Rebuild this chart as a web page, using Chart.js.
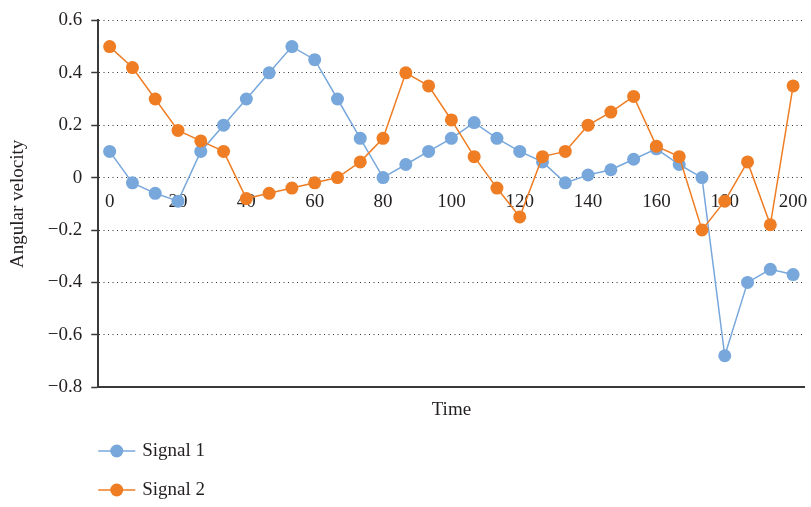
<!DOCTYPE html>
<html>
<head>
<meta charset="utf-8">
<script src="https://cdn.jsdelivr.net/npm/chart.js@4.4.0/dist/chart.umd.min.js"></script>
<style>
  html, body { margin: 0; padding: 0; background: #fff; }
  canvas { display: block; }
</style>
</head>
<body>
<canvas id="chart" width="811" height="507"></canvas>
<script>
// time of each sample (31 samples over 0..200)
const times = [0, 6.7, 13.3, 20, 26.7, 33.3, 40, 46.7, 53.3, 60, 66.7, 73.3, 80, 86.7, 93.3, 100,
               106.7, 113.3, 120, 126.7, 133.3, 140, 146.7, 153.3, 160, 166.7, 173.3, 180, 186.7, 193.3, 200];
const timeTicks = [0, 20, 40, 60, 80, 100, 120, 140, 160, 180, 200];

const signal1 = [0.10, -0.02, -0.06, -0.09, 0.10, 0.20, 0.30, 0.40, 0.50, 0.45, 0.30, 0.15, 0.00, 0.05, 0.10, 0.15,
                 0.21, 0.15, 0.10, 0.06, -0.02, 0.01, 0.03, 0.07, 0.11, 0.05, 0.00, -0.68, -0.40, -0.35, -0.37];
const signal2 = [0.50, 0.42, 0.30, 0.18, 0.14, 0.10, -0.08, -0.06, -0.04, -0.02, 0.00, 0.06, 0.15, 0.40, 0.35, 0.22,
                 0.08, -0.04, -0.15, 0.08, 0.10, 0.20, 0.25, 0.31, 0.12, 0.08, -0.20, -0.09, 0.06, -0.18, 0.35];

const seriesNames = ['Signal 1', 'Signal 2'];
const seriesColors = ['#77a7db', '#ef7d24'];

const yMin = -0.8, yMax = 0.6, yStep = 0.2;

const textColor = '#231f20';
const axisColor = '#3a3a3a';

Chart.defaults.font.family = '"Liberation Serif", "Times New Roman", serif';
Chart.defaults.font.size = 19;
Chart.defaults.color = textColor;

// legend drawn as two rows under the axis title
const rowLegend = {
    id: 'rowLegend',
    afterDraw(chart) {
        const ctx = chart.ctx;
        const left = chart.chartArea.left;
        chart.data.datasets.forEach((ds, i) => {
            const y = chart.height - 56 + i * 39;
            ctx.save();
            ctx.strokeStyle = ds.borderColor;
            ctx.lineWidth = ds.borderWidth;
            ctx.beginPath();
            ctx.moveTo(left, y);
            ctx.lineTo(left + 37, y);
            ctx.stroke();
            ctx.fillStyle = ds.backgroundColor;
            ctx.beginPath();
            ctx.arc(left + 18.5, y, ds.pointRadius, 0, Math.PI * 2);
            ctx.fill();
            ctx.fillStyle = textColor;
            ctx.font = '19px ' + Chart.defaults.font.family;
            ctx.textBaseline = 'middle';
            ctx.textAlign = 'left';
            ctx.fillText(ds.label, left + 44, y);
            ctx.restore();
        });
    }
};

function makeSeries(i, values) {
    return {
        label: seriesNames[i],
        data: values,
        borderColor: seriesColors[i],
        backgroundColor: seriesColors[i],
        borderWidth: 1.5,
        pointRadius: 6.5,
        pointBorderWidth: 0,
        pointHoverRadius: 6.5,
        tension: 0,
        order: 2 - i
    };
}

new Chart(document.getElementById('chart'), {
    type: 'line',
    data: {
        labels: times,
        datasets: [makeSeries(0, signal1), makeSeries(1, signal2)]
    },
    plugins: [rowLegend],
    options: {
        responsive: false,
        animation: false,
        devicePixelRatio: 1,
        layout: { padding: { top: 14, right: 3, bottom: 82, left: 0 } },
        plugins: {
            legend: { display: false },
            tooltip: { enabled: false }
        },
        scales: {
            x: {
                type: 'category',
                position: { y: 0 },
                offset: true,
                z: 1,
                grid: { display: false, drawTicks: true, tickLength: 13 },
                border: { display: false },
                ticks: {
                    autoSkip: false,
                    maxRotation: 0,
                    padding: 0,
                    color: textColor,
                    callback: (v, i) => timeTicks.includes(times[i]) ? String(times[i]) : ''
                },
                // the last label may hang into the right margin
                afterFit: s => { s.paddingLeft = 0; s.paddingRight = 0; }
            },
            x2: {
                type: 'linear',
                position: 'bottom',
                min: 0,
                max: 1,
                ticks: { display: false },
                grid: { display: false, drawTicks: false },
                border: { display: true, color: axisColor, width: 2 },
                title: { display: true, text: 'Time', color: textColor, padding: { top: 11, bottom: 4 } }
            },
            y: {
                min: yMin,
                max: yMax,
                ticks: {
                    stepSize: yStep,
                    padding: 9,
                    color: textColor,
                    callback: v => Math.abs(v) < 1e-9 ? '0' : v.toFixed(1).replace('-', '\u2212')
                },
                grid: {
                    color: '#333',
                    lineWidth: 1,
                    tickLength: 7,
                    tickColor: axisColor,
                    tickWidth: 1.5
                },
                border: { display: true, color: axisColor, width: 2, dash: [1, 3.5] },
                title: { display: true, text: 'Angular velocity', color: textColor, padding: { top: 7, bottom: 9 } }
            }
        }
    }
});
</script>
</body>
</html>
